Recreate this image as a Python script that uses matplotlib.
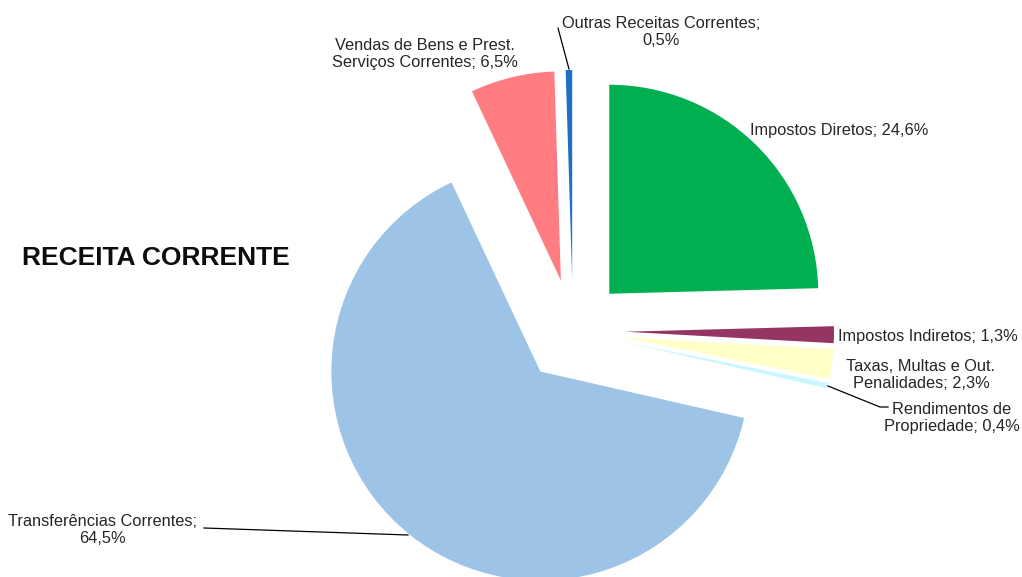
import matplotlib
matplotlib.use("Agg")
import matplotlib.pyplot as plt

categories = ["Impostos Diretos", "Impostos Indiretos", "Taxas, Multas e Out.\nPenalidades",
              "Rendimentos de\nPropriedade", "Transferências Correntes", 
              "Vendas de Bens e Prest.\nServiços Correntes", "Outras Receitas Correntes"]
values = [24.6, 1.3, 2.3, 0.4, 64.5, 6.5, 0.5]
value_labels = ["24,6%", "1,3%", "2,3%", "0,4%", "64,5%", "6,5%", "0,5%"]
colors = ["#00B050", "#953563", "#FFFFC8", "#C8F8FF", "#9DC3E6", "#FF7C80", "#1F6FC8"]

plt.rcParams['font.family'] = ['Liberation Sans', 'DejaVu Sans']

W, H = 1022, 577
fig = plt.figure(figsize=(W / 100, H / 100), dpi=100)
ax = fig.add_axes([0, 0, 1, 1])

R = 209
EXP = 52
cx, cy = 573, H - 331
ax.pie(values, colors=colors, startangle=90, counterclock=False,
       radius=R, center=(cx, cy), explode=[EXP] * len(values),
       wedgeprops=dict(edgecolor="none", linewidth=0))
ax.set_xlim(0, W)
ax.set_ylim(0, H)
ax.set_aspect('auto')
ax.axis('off')

def Y(y):
    return H - y

fs = 11.8
ls = 1.15
tc = "#262626"
ax.text(22, Y(258), "RECEITA CORRENTE", fontsize=19, fontweight='bold',
        ha='left', va='center', color='#0d0d0d')

# Outras
ax.text(661, Y(32), "Outras Receitas Correntes;\n0,5%", fontsize=fs, ha='center', va='center',
        color=tc, linespacing=ls)
ax.plot([558, 569], [Y(28), Y(69)], color='black', lw=0.9)
# Vendas
ax.text(425, Y(54), f"Vendas de Bens e Prest.\nServiços Correntes; {value_labels[5]}", fontsize=fs,
        ha='center', va='center', color=tc, linespacing=ls)
# Impostos Diretos
ax.text(750, Y(131), f"Impostos Diretos; {value_labels[0]}", fontsize=fs, ha='left', va='center', color=tc)
# Impostos Indiretos
ax.text(838, Y(336), f"Impostos Indiretos; {value_labels[1]}", fontsize=fs, ha='left', va='center', color=tc)
# Taxas
ax.text(921, Y(375), f"Taxas, Multas e Out.\nPenalidades; {value_labels[2]}", fontsize=fs,
        ha='center', va='center', color=tc, linespacing=ls)
# Rendimentos
ax.text(952, Y(418), f"Rendimentos de\nPropriedade; {value_labels[3]}", fontsize=fs,
        ha='center', va='center', color=tc, linespacing=ls)
ax.plot([828, 880, 888], [Y(386), Y(407), Y(407)], color='black', lw=0.9)
# Transferencias
ax.text(102, Y(530), f"Transferências Correntes;\n{value_labels[4]}", fontsize=fs,
        ha='center', va='center', color=tc, linespacing=ls)
ax.plot([204, 408], [Y(528), Y(535)], color='black', lw=0.9)

fig.savefig("out.png", dpi=100, facecolor='white')
